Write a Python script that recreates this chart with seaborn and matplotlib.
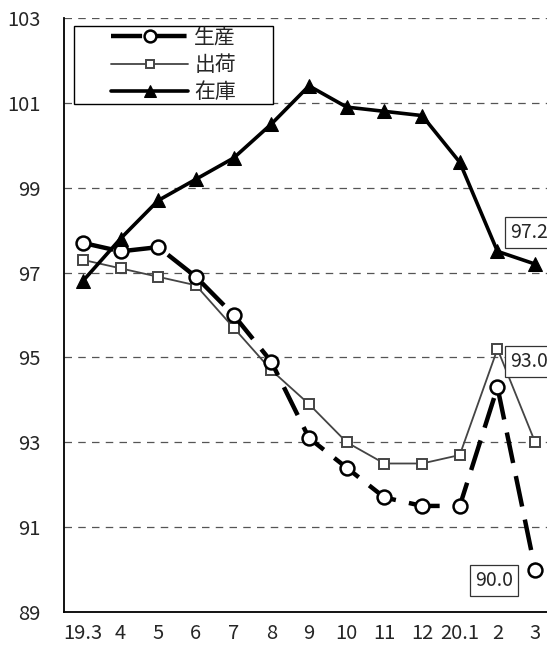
import matplotlib
matplotlib.use("Agg")
import matplotlib.pyplot as plt
from matplotlib.patches import Rectangle
import seaborn as sns
import pandas as pd

sns.set_theme(style="white")
plt.rcParams['font.family'] = ['Noto Sans CJK JP', 'DejaVu Sans']

months = ["19.3", "4", "5", "6", "7", "8", "9", "10", "11", "12", "20.1", "2", "3"]
production = [97.7, 97.5, 97.6, 96.9, 96.0, 94.9, 93.1, 92.4, 91.7, 91.5, 91.5, 94.3, 90.0]
shipments = [97.3, 97.1, 96.9, 96.7, 95.7, 94.7, 93.9, 93.0, 92.5, 92.5, 92.7, 95.2, 93.0]
inventory = [96.8, 97.8, 98.7, 99.2, 99.7, 100.5, 101.4, 100.9, 100.8, 100.7, 99.6, 97.5, 97.2]
series_names = ["生産", "出荷", "在庫"]
yticks = [89, 91, 93, 95, 97, 99, 101, 103]

x = list(range(len(months)))
df = pd.DataFrame({"x": x, "生産": production, "出荷": shipments, "在庫": inventory})

W, H = 547, 648
fig = plt.figure(figsize=(W / 100, H / 100), dpi=100)
ax = fig.add_axes([64 / W, (H - 612) / H, (554 - 64) / W, (612 - 18) / H])

sns.lineplot(data=df, x="x", y="生産", ax=ax, color="black", lw=3.2,
             linestyle=(0, (7, 3)), marker="o", markersize=10,
             markerfacecolor="white", markeredgecolor="black", markeredgewidth=1.8,
             label=series_names[0], zorder=3)
sns.lineplot(data=df, x="x", y="出荷", ax=ax, color="#444444", lw=1.3,
             marker="s", markersize=7.5,
             markerfacecolor="white", markeredgecolor="#444444", markeredgewidth=1.4,
             label=series_names[1], zorder=2)
sns.lineplot(data=df, x="x", y="在庫", ax=ax, color="black", lw=2.6,
             marker="^", markersize=9.5,
             markerfacecolor="black", markeredgecolor="black",
             label=series_names[2], zorder=4)

ax.set_xlim(-0.5, len(months) - 0.5)
ax.set_ylim(89, 103)
ax.set_yticks(yticks)
ax.set_yticklabels([str(v) for v in yticks], fontsize=14.5)
ax.set_xticks(x)
ax.set_xticklabels(months, fontsize=14.5)
ax.set_xticks([i + 0.5 for i in x[:-1]], minor=True)
ax.tick_params(axis="x", which="major", length=0, pad=8)
ax.tick_params(axis="x", which="minor", direction="in", length=5, width=1, color="black")
ax.tick_params(axis="y", which="major", direction="in", length=5, width=1, color="black", pad=17)
ax.set_xlabel("")
ax.set_ylabel("")

for v in yticks[1:]:
    ax.axhline(v, color="#555555", lw=0.9, linestyle=(0, (6, 5)), zorder=0)

for s in ["top", "right"]:
    ax.spines[s].set_visible(False)
for s in ["left", "bottom"]:
    ax.spines[s].set_color("black")
    ax.spines[s].set_linewidth(1.3)

box = dict(boxstyle="square,pad=0.25", facecolor="white", edgecolor="#333333", lw=0.9)
ax.text(11.34, 97.95, f"{inventory[-1]:.1f}", fontsize=14, ha="left", va="center", bbox=box, zorder=6)
ax.text(11.34, 94.9, f"{shipments[-1]:.1f}", fontsize=14, ha="left", va="center", bbox=box, zorder=6)
ax.text(10.9, 89.75, f"{production[-1]:.1f}", fontsize=14, ha="center", va="center", bbox=box, zorder=6)

# legend frame drawn as a fixed rectangle, entries centered inside it
lx0, lx1, ly0, ly1 = 74, 273, 26, 104
ax.add_patch(Rectangle((lx0 / W, 1 - ly1 / H), (lx1 - lx0) / W, (ly1 - ly0) / H,
                       transform=fig.transFigure, facecolor="white",
                       edgecolor="black", lw=1.0, zorder=7, clip_on=False))
leg = ax.legend(loc="center", bbox_to_anchor=((lx0 + lx1) / 2 / W, 1 - (ly0 + ly1) / 2 / H),
                bbox_transform=fig.transFigure, fontsize=15, frameon=False, markerscale=0.85,
                handlelength=3.7, handletextpad=0.3, labelspacing=0.26, borderpad=0.0)
leg.set_zorder(8)

fig.savefig("out.png", dpi=100)
